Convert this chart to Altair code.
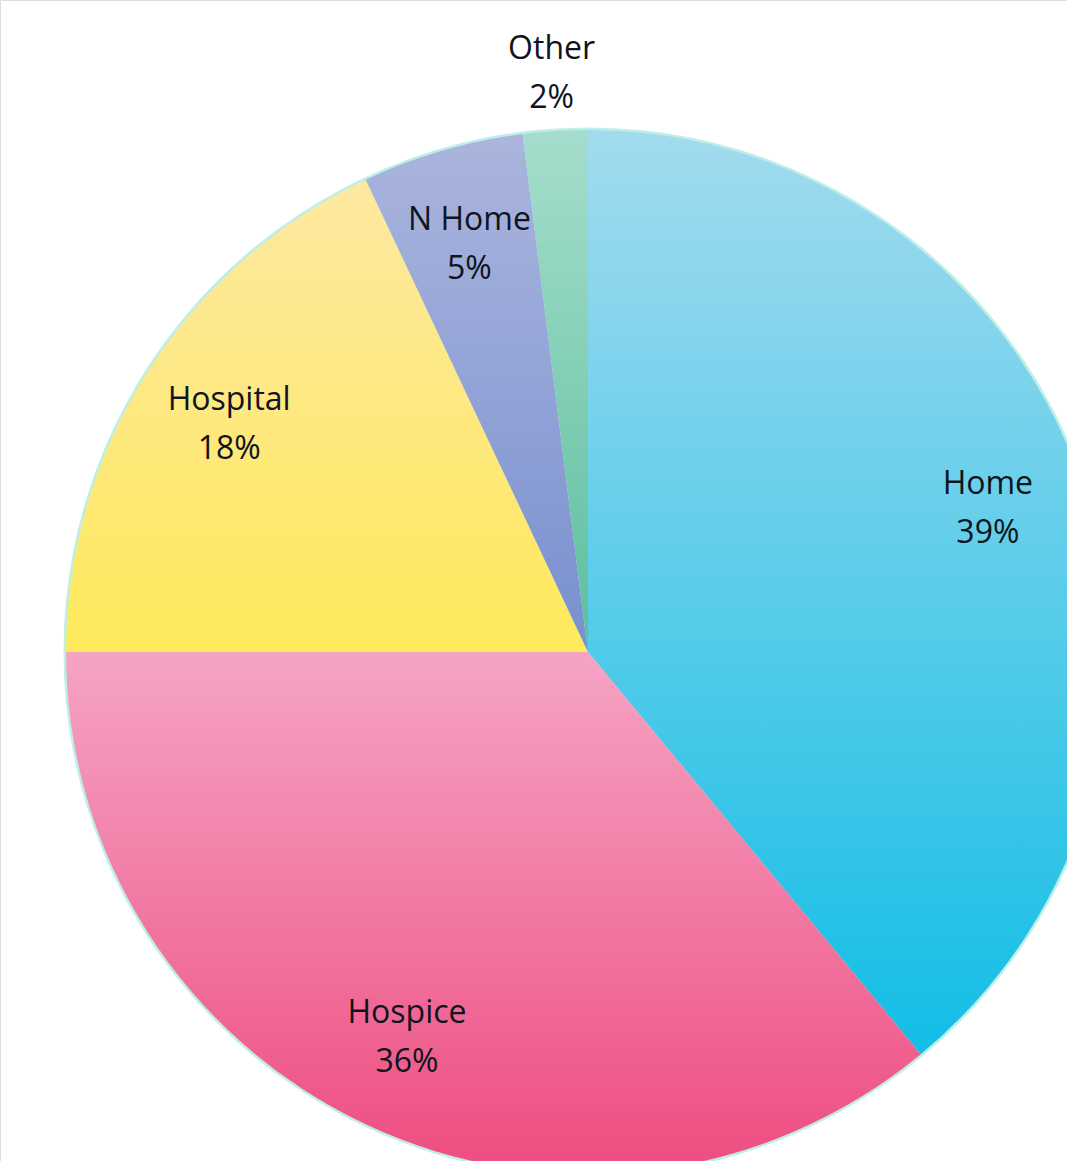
import altair as alt
import pandas as pd

categories = ["Home", "Hospice", "Hospital", "N Home", "Other"]
values = [39, 36, 18, 5, 2]
labels = [f"{c}\n{v}%" for c, v in zip(categories, values)]
top_colors = ["#a3dbee", "#f5a4c5", "#fde8a2", "#abb5dd", "#a6ddcd"]
bottom_colors = ["#12bee6", "#ee4c7f", "#ffe95c", "#7890cf", "#5bbf9d"]

df = pd.DataFrame({"idx": list(range(len(categories))), "cat": categories,
                   "value": values, "label": labels})

CX, CY, R = 588, 652, 522
TWO_PI = 6.283185307179586

base = alt.Chart(df).transform_window(
    cum="sum(value)", sort=[alt.SortField("idx")]
).transform_calculate(
    start="datum.cum - datum.value", mid="datum.cum - datum.value/2"
)

theta_scale = alt.Scale(domain=[0, 100], range=[0, TWO_PI])

glow = alt.Chart(alt.Data(values=[{"a": 1}])).mark_arc(
    theta=0, theta2=TWO_PI, radius=R + 2.5, fill="#bdeee8"
).encode(x=alt.value(CX), y=alt.value(CY))

layers = [glow]
for c, t, b in zip(categories, top_colors, bottom_colors):
    grad = alt.LinearGradient(
        gradient="linear",
        stops=[alt.GradientStop(color=t, offset=0), alt.GradientStop(color=b, offset=1)],
        x1=0, x2=0, y1=0, y2=1,
    )
    layers.append(
        base.transform_filter(alt.datum.cat == c).mark_arc(radius=R, fill=grad).encode(
            theta=alt.Theta("start:Q", scale=theta_scale),
            theta2="cum:Q",
            x=alt.value(CX), y=alt.value(CY),
        )
    )

text_style = dict(font="Open Sans", fontSize=32, color="#0e1420", lineBreak="\n",
                  lineHeight=49, align="center", baseline="middle", dy=-24)
text_enc = dict(theta=alt.Theta("mid:Q", scale=theta_scale), text="label:N",
                x=alt.value(CX), y=alt.value(CY))

text_in = base.transform_filter(alt.datum.cat != "Other").mark_text(
    radius=425, **text_style).encode(**text_enc)
text_out = base.transform_filter(alt.datum.cat == "Other").mark_text(
    radius=580, **text_style).encode(**text_enc)
layers += [text_in, text_out]

chart = alt.layer(*layers).properties(
    width=1067, height=1161, padding=0,
    autosize=alt.AutoSizeParams(type="none"),
).configure_view(strokeWidth=0, stroke="transparent").configure(background="white")

chart.save("out.html", embed_options={"renderer": "svg", "actions": False})
